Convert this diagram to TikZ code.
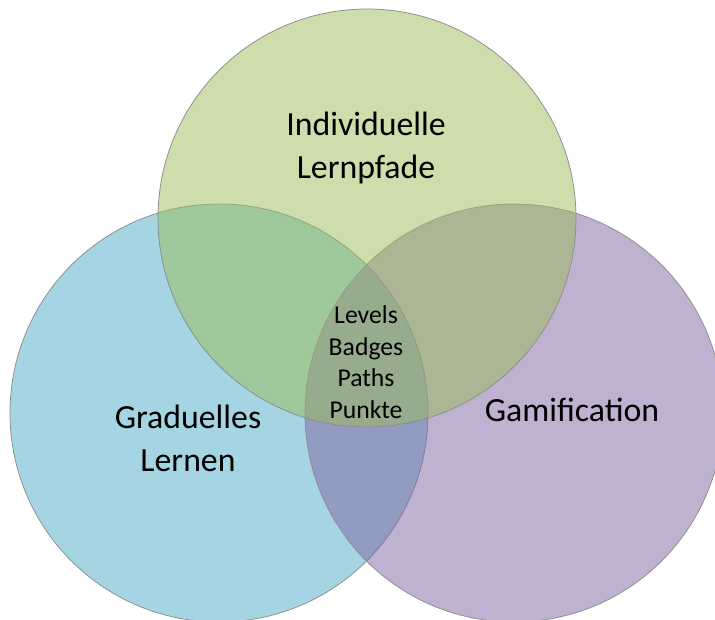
\documentclass[tikz,border=0pt]{standalone}
\usepackage{fontspec}
\setmainfont{Carlito}
\definecolor{vennblue}{HTML}{4BACC6}
\definecolor{venngreen}{HTML}{9BBB59}
\definecolor{vennpurple}{HTML}{8064A2}
\begin{document}
\begin{tikzpicture}[x=1pt,y=-1pt]

\tikzset{venn/.style = {shape=circle,draw=black!45,line width=0.75pt,fill opacity=0.5,minimum size=418pt,inner sep=0pt}}
\tikzset{biglabel/.style = {align=center,font=\fontsize{33.8}{43}\selectfont}}
\tikzset{smalllabel/.style = {align=center,font=\fontsize{25.7}{31.5}\selectfont}}
\useasboundingbox (0,0) rectangle (715,619);
%circles
\node[venn, fill=vennblue] (grad) at (219,413) {};
\node[venn, fill=vennpurple] (gami) at (514,413) {};
\node[venn, fill=venngreen] (indi) at (367,218) {};
%labels
\node[biglabel] (indilabel) at (366,148) {Individuelle\\Lernpfade};
\node[biglabel] (gradlabel) at (188,438) {Graduelles\\Lernen};
\node[biglabel] (gamilabel) at (572,410) {Gamification};
\node[smalllabel] (mid) at (366,362) {Levels\\Badges\\Paths\\Punkte};

\end{tikzpicture}
\end{document}
